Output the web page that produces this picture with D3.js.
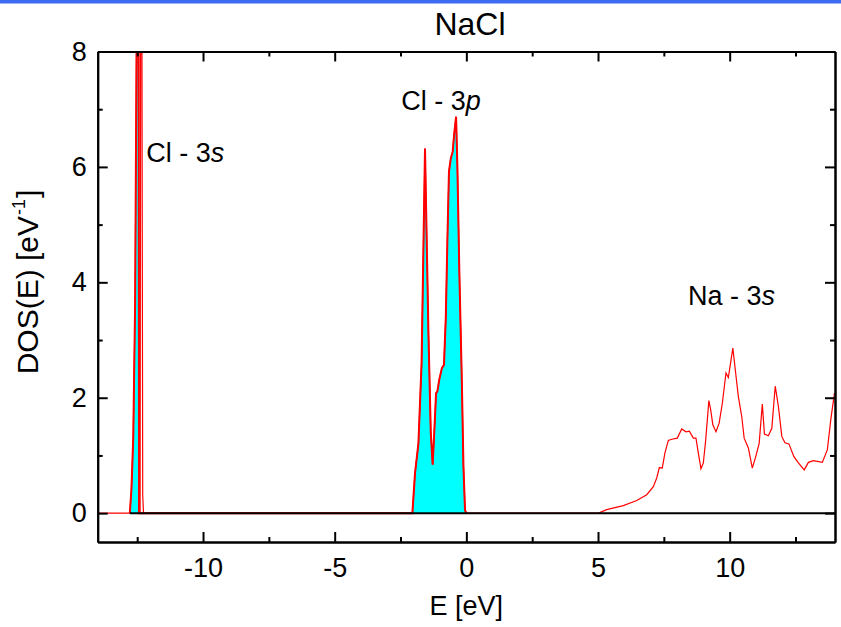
<!DOCTYPE html>
<html>
<head>
<meta charset="utf-8">
<script src="https://cdn.jsdelivr.net/npm/d3@7"></script>
<style>
  body { margin: 0; background: #fff; }
  text { font-family: Arial, "Liberation Sans", sans-serif; fill: #000; }
  .axis path, .axis line { stroke: #000; stroke-width: 2; }
</style>
</head>
<body>
<script>
// ---- data ----
// Cl 3s band, first (occupied, filled) peak
var cl3sE   = [-12.78, -12.72, -12.65, -12.58, -12.52, -12.46, -12.43];
var cl3sDOS = [0, 0.4, 1.3, 3.6, 8.4, 16, 0];
// Cl 3s, second narrow peak (only in the total curve)
var cl3sBE   = [-12.39, -12.35, -12.29, -12.26];
var cl3sBDOS = [0, 16, 0.3, 0];
// Cl 3p valence band
var cl3pE   = [-2.05, -1.95, -1.82, -1.70, -1.57, -1.44, -1.35, -1.28, -1.22, -1.15, -1.10, -1.03, -0.93, -0.85,
               -0.78, -0.72, -0.66, -0.59, -0.52, -0.46, -0.39, -0.34, -0.27, -0.17, -0.11, -0.05, 0];
var cl3pDOS = [0, 0.69, 1.21, 2.6, 6.32, 3.12, 1.39, 0.84, 1.39, 2.08, 2.11, 2.31, 2.51, 2.57,
               3.40, 4.73, 5.92, 6.15, 6.26, 6.58, 6.87, 6.0, 4.27, 2.25, 0.81, 0.05, 0];
// Na 3s conduction band
var na3sE   = [5.02, 5.33, 5.96, 6.47, 6.85, 7.10, 7.23, 7.33, 7.44, 7.54, 7.67, 7.80, 8.01, 8.18, 8.34, 8.47,
               8.62, 8.72, 8.81, 8.91, 9.00, 9.09, 9.21, 9.28, 9.36, 9.48, 9.60, 9.72, 9.86, 9.95, 10.12,
               10.23, 10.33, 10.46, 10.55, 10.71, 10.86, 10.99, 11.12, 11.24, 11.32, 11.47, 11.60, 11.73,
               11.85, 11.98, 12.10, 12.25, 12.44, 12.61, 12.83, 12.99, 13.18, 13.52, 13.71, 13.84, 13.98];
var na3sDOS = [0, 0.06, 0.13, 0.22, 0.32, 0.46, 0.61, 0.79, 0.78, 1.04, 1.26, 1.28, 1.30, 1.46, 1.41, 1.42,
               1.30, 1.30, 1.04, 0.77, 0.87, 1.27, 1.95, 1.79, 1.53, 1.41, 1.56, 1.90, 2.43, 2.35, 2.86,
               2.42, 2.02, 1.67, 1.30, 1.13, 0.78, 0.98, 1.21, 1.89, 1.37, 1.34, 1.47, 2.20,
               1.85, 1.33, 1.22, 1.20, 0.98, 0.87, 0.75, 0.88, 0.91, 0.88, 1.10, 1.62, 2.08];

var xTicks = [-10, -5, 0, 5, 10];
var xMinor = [-12.5, -7.5, -2.5, 2.5, 7.5, 12.5];
var yTicks = [0, 2, 4, 6, 8];
var yMinor = [1, 3, 5, 7];

var labels = [
  { name: 'Cl - 3', orb: 's', E: -12.16, dos: 6.08 },
  { name: 'Cl - 3', orb: 'p', E: -2.47, dos: 6.98 },
  { name: 'Na - 3', orb: 's', E: 8.42, dos: 3.6 }
];

// helper to zip E / DOS arrays
function zip(es, vs) {
  return es.map(function(e, i) { return { E: e, v: vs[i] }; });
}

var total = [{ E: -14, v: 0 }]
  .concat(zip(cl3sE, cl3sDOS), zip(cl3sBE, cl3sBDOS), zip(cl3pE, cl3pDOS), zip(na3sE, na3sDOS));
var occupied = zip(cl3sE, cl3sDOS).concat(zip(cl3pE, cl3pDOS));

// ---- layout ----
var width = 841, height = 627;
var plot = { left: 97.7, right: 835, top: 51.5, bottom: 542 };

var svg = d3.select('body').append('svg')
    .attr('width', width)
    .attr('height', height);

// blue strip across the top
svg.append('rect')
    .attr('x', 0).attr('y', 0)
    .attr('width', width).attr('height', 3.5)
    .attr('fill', '#3c6cf2');

var x = d3.scaleLinear().domain([-14, 14]).range([plot.left, plot.right]);
var y = d3.scaleLinear().domain([-0.5, 8]).range([plot.bottom, plot.top]);

svg.append('clipPath').attr('id', 'clip')
  .append('rect')
    .attr('x', plot.left).attr('y', plot.top)
    .attr('width', plot.right - plot.left).attr('height', plot.bottom - plot.top);

var g = svg.append('g').attr('clip-path', 'url(#clip)');

var line = d3.line()
    .x(function(d) { return x(d.E); })
    .y(function(d) { return y(d.v); });

// occupied states, filled cyan
g.append('path')
    .datum(occupied)
    .attr('fill', '#00ffff')
    .attr('d', d3.area()
      .x(function(d) { return x(d.E); })
      .y0(y(0))
      .y1(function(d) { return y(d.v); }));

g.append('path')
    .datum(occupied)
    .attr('fill', 'none')
    .attr('stroke', '#ff0000')
    .attr('stroke-width', 2)
    .attr('d', line);

// total DOS
g.append('path')
    .datum(total)
    .attr('fill', 'none')
    .attr('stroke', '#ff0000')
    .attr('stroke-width', 1.2)
    .attr('d', line);

// zero line (drawn over the red baseline, like the original)
g.append('line')
    .attr('x1', x(cl3sE[0])).attr('x2', x(14))
    .attr('y1', y(0)).attr('y2', y(0))
    .attr('stroke', '#000')
    .attr('stroke-width', 2);

// ---- axes, ticks pointing in on all four sides ----
function fmt(d) { return String(d); }

svg.append('g').attr('class', 'axis')
    .attr('transform', 'translate(0,' + plot.bottom + ')')
    .call(d3.axisBottom(x).tickValues(xTicks).tickFormat(fmt).tickSizeInner(-10).tickSizeOuter(0).tickPadding(16));
svg.append('g').attr('class', 'axis')
    .attr('transform', 'translate(0,' + plot.bottom + ')')
    .call(d3.axisBottom(x).tickValues(xMinor).tickFormat('').tickSizeInner(-5).tickSizeOuter(0));
svg.append('g').attr('class', 'axis')
    .attr('transform', 'translate(0,' + plot.top + ')')
    .call(d3.axisTop(x).tickValues(xTicks).tickFormat('').tickSizeInner(-10).tickSizeOuter(0));
svg.append('g').attr('class', 'axis')
    .attr('transform', 'translate(0,' + plot.top + ')')
    .call(d3.axisTop(x).tickValues(xMinor).tickFormat('').tickSizeInner(-5).tickSizeOuter(0));

svg.append('g').attr('class', 'axis')
    .attr('transform', 'translate(' + plot.left + ',0)')
    .call(d3.axisLeft(y).tickValues(yTicks).tickFormat(fmt).tickSizeInner(-10).tickSizeOuter(0).tickPadding(11));
svg.append('g').attr('class', 'axis')
    .attr('transform', 'translate(' + plot.left + ',0)')
    .call(d3.axisLeft(y).tickValues(yMinor).tickFormat('').tickSizeInner(-5).tickSizeOuter(0));
svg.append('g').attr('class', 'axis')
    .attr('transform', 'translate(' + plot.right + ',0)')
    .call(d3.axisRight(y).tickValues(yTicks).tickFormat('').tickSizeInner(-10).tickSizeOuter(0));
svg.append('g').attr('class', 'axis')
    .attr('transform', 'translate(' + plot.right + ',0)')
    .call(d3.axisRight(y).tickValues(yMinor).tickFormat('').tickSizeInner(-5).tickSizeOuter(0));

svg.selectAll('.axis text')
    .style('font-size', '27px')
    .style('font-family', 'Arial, "Liberation Sans", sans-serif');

// ---- titles ----
svg.append('text')
    .attr('x', 470).attr('y', 35)
    .attr('text-anchor', 'middle')
    .style('font-size', '32px')
    .text('NaCl');

svg.append('text')
    .attr('x', (plot.left + plot.right) / 2).attr('y', 615)
    .attr('text-anchor', 'middle')
    .style('font-size', '27px')
    .text('E [eV]');

var yl = svg.append('text')
    .attr('transform', 'translate(38,282) rotate(-90)')
    .attr('text-anchor', 'middle')
    .style('font-size', '30px');
yl.append('tspan').text('DOS(E) [eV');
yl.append('tspan').attr('dy', -13).attr('dx', 1).style('font-size', '18px').text('-1');
yl.append('tspan').attr('dy', 13).attr('dx', 1).text(']');

// band labels
labels.forEach(function(l) {
  var t = svg.append('text')
      .attr('x', x(l.E)).attr('y', y(l.dos))
      .style('font-size', '27px');
  t.append('tspan').text(l.name);
  t.append('tspan').style('font-style', 'italic').text(l.orb);
});
</script>
</body>
</html>
